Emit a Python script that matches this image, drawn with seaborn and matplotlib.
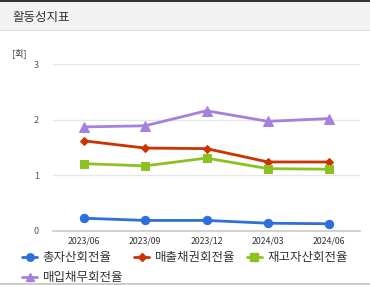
import matplotlib
matplotlib.use('Agg')
import matplotlib.pyplot as plt
import seaborn as sns
from matplotlib.patches import Rectangle

# data
periods = ['2023/06', '2023/09', '2023/12', '2024/03', '2024/06']
total_asset = [0.23, 0.19, 0.19, 0.14, 0.13]
receivables = [1.62, 1.49, 1.48, 1.24, 1.24]
inventory = [1.21, 1.17, 1.31, 1.12, 1.11]
payables = [1.87, 1.89, 2.16, 1.97, 2.02]
series_names = ['총자산회전율', '매출채권회전율', '재고자산회전율', '매입채무회전율']

sns.set_theme(style='white')
plt.rcParams['font.family'] = ['Noto Sans CJK KR', 'DejaVu Sans']

W, H = 370, 285
fig = plt.figure(figsize=(W / 100, H / 100), dpi=100)

# header band
fig.patches.append(Rectangle((0, 1 - 30 / H), 1, 28 / H, transform=fig.transFigure,
                             facecolor='#f2f2f2', edgecolor='none', zorder=0))
fig.patches.append(Rectangle((0, 1 - 2 / H), 1, 2 / H, transform=fig.transFigure,
                             facecolor='#333333', edgecolor='none', zorder=1))
fig.patches.append(Rectangle((0, 1 - 31 / H), 1, 1 / H, transform=fig.transFigure,
                             facecolor='#dddddd', edgecolor='none', zorder=1))
fig.patches.append(Rectangle((0, 0), 1, 2 / H, transform=fig.transFigure,
                             facecolor='#cccccc', edgecolor='none', zorder=1))
fig.text(12 / W, 1 - 17 / H, '활동성지표', fontsize=9, color='#333333', va='center', ha='left')
fig.text(12 / W, 1 - 53 / H, '[회]', fontsize=6.5, color='#333333', va='center', ha='left')

left, right, top, bottom = 53, 360, 64, 231
ax = fig.add_axes([left / W, 1 - bottom / H, (right - left) / W, (bottom - top) / H])

x = list(range(len(periods)))
styles = [
    (total_asset, '#2e6fd9', 'o', 6),
    (receivables, '#cc3300', 'D', 4.5),
    (inventory, '#8cc21f', 's', 6),
    (payables, '#a680dc', '^', 6.5),
]
handles = []
for (vals, col, mk, ms), name in zip(styles, series_names):
    sns.lineplot(x=x, y=vals, ax=ax, color=col, marker=mk, markersize=ms,
                 markeredgecolor=col, linewidth=2, label=name, legend=False)
    handles.append(plt.Line2D([], [], color=col, marker=mk, markersize=ms * 0.9,
                              markeredgecolor=col, linewidth=2))

ax.set_xlim(-0.5, len(periods) - 0.5)
ax.set_ylim(0, 3)
ax.set_yticks([0, 1, 2, 3])
ax.set_yticklabels(['0', '1', '2', '3'])
ax.grid(axis='y', color='#e6e6e6', linewidth=1)
ax.set_axisbelow(True)
for s in ['top', 'right', 'left']:
    ax.spines[s].set_visible(False)
ax.spines['bottom'].set_color('#cccccc')
ax.set_xticks([i - 0.5 for i in range(len(periods) + 1)], minor=False)
ax.set_xticklabels([''] * (len(periods) + 1))
ax.set_xticks(x, minor=True)
ax.set_xticklabels(periods, minor=True)
ax.tick_params(axis='x', which='major', length=4, color='#cccccc', direction='out')
ax.tick_params(axis='x', which='minor', length=0, labelsize=6.3, labelcolor='#333333', pad=4)
ax.tick_params(axis='y', length=0, labelsize=6.5, labelcolor='#555555', pad=10)

# matplotlib fills legend columns first; reorder so the rows read like the reference
order = [0, 3, 1, 2]
fig.legend([handles[i] for i in order], [series_names[i] for i in order],
           loc='upper left', bbox_to_anchor=(22 / W, 1 - 251 / H),
           ncol=3, frameon=False, fontsize=9, handlelength=1.2, handletextpad=0.45,
           columnspacing=0.9, labelspacing=0.55, borderpad=0, borderaxespad=0,
           labelcolor='#333333')

fig.savefig('out.png', dpi=100)
